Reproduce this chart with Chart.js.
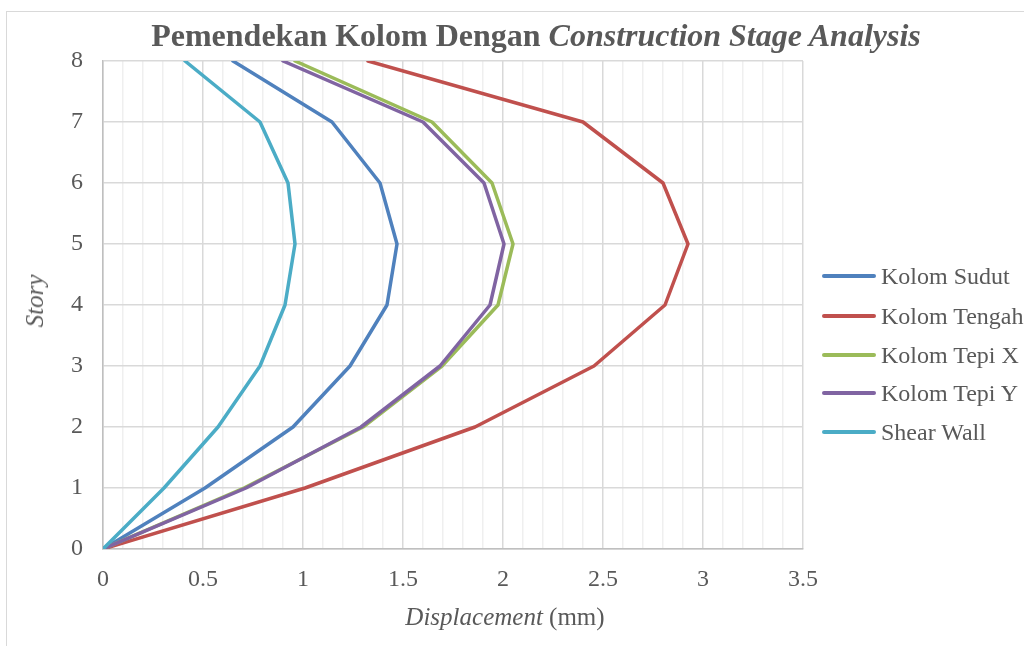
<!DOCTYPE html>
<html>
<head>
<meta charset="utf-8">
<script src="https://cdn.jsdelivr.net/npm/chart.js@4"></script>
<style>
  html, body { margin: 0; padding: 0; background: #fff; overflow: hidden; }
  #wrap { position: relative; width: 1024px; height: 646px; font-family: "Liberation Serif", "Times New Roman", serif; color: #595959; }
  #frame { position: absolute; left: 6px; top: 11px; width: 1040px; height: 660px; border: 1.5px solid #d9d9d9; }
  #myChart { position: absolute; left: 0; top: 0; }
  .title { position: absolute; left: 536px; top: 17px; transform: translateX(-50%); white-space: nowrap; font-size: 32px; font-weight: bold; line-height: 36px; }
  .xtitle { position: absolute; left: 505px; top: 602px; transform: translateX(-50%); white-space: nowrap; font-size: 25px; line-height: 30px; }
  .ytitle { position: absolute; left: 35px; top: 301px; transform: translate(-50%, -50%) rotate(-90deg); white-space: nowrap; font-size: 25px; line-height: 30px; font-style: italic; }
  .legend { position: absolute; left: 822px; top: 0; }
  .legend-item { position: absolute; left: 0; white-space: nowrap; font-size: 24px; line-height: 28px; }
  .legend-line { display: inline-block; width: 54px; height: 4px; border-radius: 2px; vertical-align: middle; margin-right: 5px; position: relative; top: -2px; }
</style>
</head>
<body>
<div id="wrap">
  <div id="frame"></div>
  <canvas id="myChart" width="1024" height="646"></canvas>
  <div class="title">Pemendekan Kolom Dengan <i>Construction Stage Analysis</i></div>
  <div class="ytitle">Story</div>
  <div class="xtitle"><i>Displacement</i> (mm)</div>
  <div class="legend" id="legend"></div>
</div>
<script>
// story levels (y axis)
var stories = [0, 1, 2, 3, 4, 5, 6, 7, 8];

// displacement per story (mm)
var kolomSudut  = [0, 0.51, 0.95, 1.235, 1.42, 1.47, 1.385, 1.145, 0.65];
var kolomTengah = [0, 1.01, 1.86, 2.455, 2.81, 2.925, 2.8, 2.4, 1.325];
var kolomTepiX  = [0, 0.705, 1.3, 1.695, 1.975, 2.05, 1.945, 1.645, 0.96];
var kolomTepiY  = [0, 0.715, 1.29, 1.685, 1.935, 2.005, 1.905, 1.6, 0.9];
var shearWall   = [0, 0.305, 0.575, 0.785, 0.91, 0.96, 0.925, 0.785, 0.41];

var seriesNames = ["Kolom Sudut", "Kolom Tengah", "Kolom Tepi X", "Kolom Tepi Y", "Shear Wall"];
var seriesData = [kolomSudut, kolomTengah, kolomTepiX, kolomTepiY, shearWall];
var seriesColors = ["#4F81BD", "#C0504D", "#9BBB59", "#8064A2", "#4BACC6"];

var xMin = 0, xMax = 3.5, xStep = 0.1;
var yMin = 0, yMax = 8, yStep = 1;

function toPoints(values) {
    var pts = [];
    for (var i = 0; i < stories.length; i++) {
        pts.push({ x: values[i], y: stories[i] });
    }
    return pts;
}

var datasets = [];
for (var i = 0; i < seriesNames.length; i++) {
    datasets.push({
        label: seriesNames[i],
        data: toPoints(seriesData[i]),
        borderColor: seriesColors[i],
        backgroundColor: seriesColors[i],
        borderWidth: 3.5,
        pointRadius: 0,
        tension: 0,
        borderJoinStyle: "round",
        borderCapStyle: "round",
        order: seriesNames.length - i
    });
}

// legend built from the same series
var legend = document.getElementById("legend");
var legendY = [276, 316, 355, 393, 432];
for (var i = 0; i < seriesNames.length; i++) {
    var item = document.createElement("div");
    item.className = "legend-item";
    item.style.top = (legendY[i] - 14) + "px";
    item.innerHTML = '<span class="legend-line" style="background:' + seriesColors[i] + '"></span>' + seriesNames[i];
    legend.appendChild(item);
}

function isMajor(v) {
    return Math.round(v * 10) % 5 === 0;
}

var ctx = document.getElementById("myChart").getContext("2d");
var chart = new Chart(ctx, {
    type: "line",
    data: { datasets: datasets },
    options: {
        responsive: false,
        animation: false,
        layout: { padding: { top: 61, right: 221, left: 0, bottom: 0 } },
        plugins: {
            legend: { display: false },
            title: { display: false },
            tooltip: { enabled: false }
        },
        scales: {
            x: {
                type: "linear",
                min: xMin,
                max: xMax,
                afterFit: function(scale) { scale.height = 97; },
                border: { color: "#bfbfbf", width: 1.5 },
                grid: {
                    drawTicks: false,
                    lineWidth: 1.5,
                    color: function(c) { return isMajor(c.tick.value) ? "#d9d9d9" : "#efefef"; }
                },
                ticks: {
                    stepSize: xStep,
                    autoSkip: false,
                    maxRotation: 0,
                    padding: 16,
                    color: "#595959",
                    font: { family: "Liberation Serif", size: 24 },
                    callback: function(v) {
                        return isMajor(v) ? String(Math.round(v * 10) / 10) : "";
                    }
                }
            },
            y: {
                type: "linear",
                min: yMin,
                max: yMax,
                afterFit: function(scale) { scale.width = 103; },
                border: { color: "#bfbfbf", width: 1.5 },
                grid: {
                    drawTicks: false,
                    lineWidth: 1.5,
                    color: "#d9d9d9"
                },
                ticks: {
                    stepSize: yStep,
                    padding: 20,
                    color: "#595959",
                    font: { family: "Liberation Serif", size: 24 }
                }
            }
        }
    }
});
</script>
</body>
</html>
